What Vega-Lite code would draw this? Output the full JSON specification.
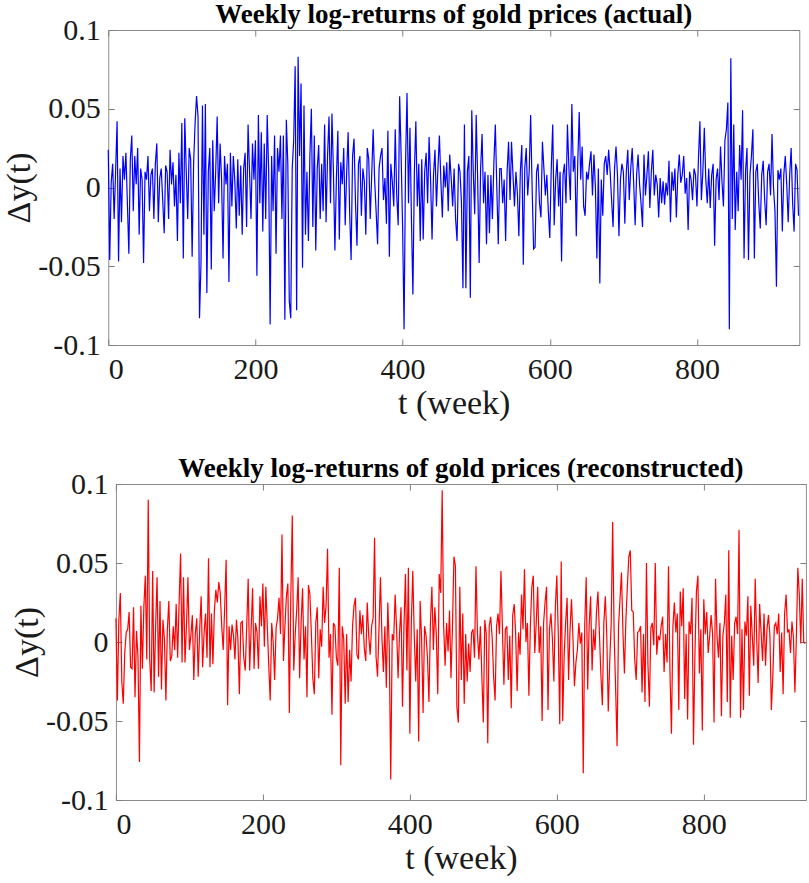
{
  "$schema": "https://vega.github.io/schema/vega-lite/v6.json",
  "description": "weekly log-returns of gold prices, actual vs reconstructed",
  "background": "white",
  "padding": {"left": 2, "top": 0, "right": 0, "bottom": 0},
  "config": {
    "font": "Liberation Serif",
    "view": {"stroke": "#8c8c8c", "strokeWidth": 1},
    "axis": {
      "grid": false,
      "domain": false,
      "tickColor": "#7f7f7f",
      "tickSize": -6,
      "labelFont": "Liberation Serif",
      "labelFontSize": 30,
      "labelColor": "#1a1a1a",
      "titleFont": "Liberation Serif",
      "titleFontSize": 34,
      "titleFontWeight": "normal",
      "titleColor": "#1a1a1a"
    },
    "title": {"font": "Liberation Serif", "fontSize": 27, "fontWeight": "bold", "color": "#000000", "offset": -14, "frame": "group"}
  },
  "datasets": {
    "gold": [
      {"t":0,"a":0.024,"r":0.015},{"t":2,"a":-0.046,"r":-0.037},{"t":4,"a":0.003,"r":0.014},{"t":6,"a":0.015,"r":0.031},{"t":8,"a":-0.020,"r":-0.025},
      {"t":10,"a":0.010,"r":-0.039},{"t":12,"a":0.042,"r":-0.007},{"t":14,"a":-0.047,"r":0.006},{"t":16,"a":0.012,"r":0.008},{"t":18,"a":-0.022,"r":0.019},
      {"t":20,"a":0.020,"r":-0.016},{"t":22,"a":0.005,"r":-0.017},{"t":24,"a":0.022,"r":0.022},{"t":26,"a":-0.010,"r":-0.035},{"t":28,"a":-0.042,"r":0.007},
      {"t":30,"a":0.018,"r":-0.009},{"t":32,"a":0.033,"r":-0.076},{"t":34,"a":-0.015,"r":0.023},{"t":36,"a":0.020,"r":-0.017},{"t":38,"a":0.002,"r":0.022},
      {"t":40,"a":0.025,"r":0.042},{"t":42,"a":-0.030,"r":-0.011},{"t":44,"a":0.012,"r":0.090},{"t":46,"a":0.005,"r":-0.011},{"t":48,"a":-0.048,"r":-0.031},
      {"t":50,"a":0.010,"r":0.045},{"t":52,"a":0.005,"r":-0.032},{"t":54,"a":0.020,"r":0.010},{"t":56,"a":-0.015,"r":0.041},{"t":58,"a":0.008,"r":-0.022},
      {"t":60,"a":0.012,"r":0.026},{"t":62,"a":-0.020,"r":-0.030},{"t":64,"a":0.015,"r":0.014},{"t":66,"a":0.028,"r":0.002},{"t":68,"a":-0.022,"r":-0.037},
      {"t":70,"a":0.006,"r":0.008},{"t":72,"a":0.012,"r":0.026},{"t":74,"a":-0.008,"r":-0.012},{"t":76,"a":-0.029,"r":-0.009},{"t":78,"a":0.014,"r":0.010},
      {"t":80,"a":0.010,"r":-0.005},{"t":82,"a":-0.020,"r":0.024},{"t":84,"a":0.024,"r":-0.010},{"t":86,"a":0.002,"r":0.025},{"t":88,"a":0.016,"r":0.056},
      {"t":90,"a":-0.012,"r":-0.013},{"t":92,"a":0.008,"r":0.041},{"t":94,"a":-0.034,"r":-0.013},{"t":96,"a":0.022,"r":0.010},{"t":98,"a":-0.010,"r":0.041},
      {"t":100,"a":0.041,"r":-0.005},{"t":102,"a":-0.045,"r":0.004},{"t":104,"a":0.044,"r":0.017},{"t":106,"a":0.010,"r":-0.024},{"t":108,"a":-0.020,"r":0.005},
      {"t":110,"a":0.025,"r":0.015},{"t":112,"a":0.018,"r":-0.022},{"t":114,"a":-0.044,"r":0.008},{"t":116,"a":0.015,"r":0.029},{"t":118,"a":0.041,"r":-0.016},
      {"t":120,"a":0.058,"r":0.006},{"t":122,"a":0.045,"r":0.018},{"t":124,"a":-0.083,"r":-0.010},{"t":126,"a":-0.049,"r":0.053},{"t":128,"a":0.052,"r":-0.016},
      {"t":130,"a":-0.030,"r":0.018},{"t":132,"a":0.053,"r":-0.014},{"t":134,"a":-0.067,"r":0.020},{"t":136,"a":0.010,"r":0.033},{"t":138,"a":0.025,"r":0.025},
      {"t":140,"a":-0.052,"r":0.038},{"t":142,"a":0.030,"r":0.031},{"t":144,"a":-0.015,"r":0.010},{"t":146,"a":0.010,"r":-0.005},{"t":148,"a":0.045,"r":0.022},
      {"t":150,"a":-0.010,"r":0.052},{"t":152,"a":0.028,"r":-0.040},{"t":154,"a":0.005,"r":0.010},{"t":156,"a":-0.045,"r":-0.005},{"t":158,"a":0.020,"r":0.011},
      {"t":160,"a":0.002,"r":0.004},{"t":162,"a":0.015,"r":-0.011},{"t":164,"a":-0.060,"r":0.014},{"t":166,"a":0.022,"r":0.002},{"t":168,"a":-0.012,"r":-0.033},
      {"t":170,"a":0.020,"r":0.012},{"t":172,"a":0.004,"r":0.013},{"t":174,"a":-0.026,"r":-0.010},{"t":176,"a":0.018,"r":-0.018},{"t":178,"a":-0.018,"r":0.010},
      {"t":180,"a":0.014,"r":0.040},{"t":182,"a":-0.030,"r":-0.018},{"t":184,"a":0.012,"r":0.008},{"t":186,"a":0.022,"r":0.034},{"t":188,"a":-0.025,"r":-0.017},
      {"t":190,"a":0.040,"r":0.012},{"t":192,"a":0.010,"r":0.006},{"t":194,"a":-0.020,"r":-0.017},{"t":196,"a":0.028,"r":0.029},{"t":198,"a":0.005,"r":0.010},
      {"t":200,"a":0.030,"r":0.037},{"t":202,"a":-0.056,"r":-0.003},{"t":204,"a":0.046,"r":0.035},{"t":206,"a":-0.010,"r":0.010},{"t":208,"a":0.035,"r":-0.015},
      {"t":210,"a":-0.028,"r":-0.037},{"t":212,"a":0.028,"r":0.012},{"t":214,"a":-0.020,"r":0.000},{"t":216,"a":0.046,"r":-0.024},{"t":218,"a":0.010,"r":0.009},
      {"t":220,"a":-0.087,"r":0.015},{"t":222,"a":0.020,"r":0.028},{"t":224,"a":-0.015,"r":0.005},{"t":226,"a":0.033,"r":0.068},{"t":228,"a":-0.042,"r":-0.012},
      {"t":230,"a":0.025,"r":0.010},{"t":232,"a":0.010,"r":0.029},{"t":234,"a":0.033,"r":0.037},{"t":236,"a":-0.020,"r":-0.045},{"t":238,"a":0.033,"r":0.029},
      {"t":240,"a":-0.084,"r":0.080},{"t":242,"a":0.043,"r":-0.018},{"t":244,"a":0.015,"r":0.005},{"t":246,"a":-0.072,"r":0.020},{"t":248,"a":-0.083,"r":0.041},
      {"t":250,"a":0.012,"r":-0.023},{"t":252,"a":0.030,"r":0.012},{"t":254,"a":0.077,"r":0.034},{"t":256,"a":-0.078,"r":-0.011},{"t":258,"a":0.083,"r":0.010},
      {"t":260,"a":0.020,"r":-0.035},{"t":262,"a":0.066,"r":0.036},{"t":264,"a":-0.051,"r":0.030},{"t":266,"a":0.052,"r":0.005},{"t":268,"a":-0.030,"r":-0.023},
      {"t":270,"a":0.010,"r":-0.033},{"t":272,"a":-0.034,"r":0.012},{"t":274,"a":0.020,"r":0.022},{"t":276,"a":0.050,"r":-0.023},{"t":278,"a":-0.025,"r":0.008},
      {"t":280,"a":0.033,"r":-0.003},{"t":282,"a":-0.040,"r":0.035},{"t":284,"a":0.012,"r":0.012},{"t":286,"a":0.027,"r":0.023},{"t":288,"a":-0.020,"r":0.059},
      {"t":290,"a":0.015,"r":-0.010},{"t":292,"a":-0.015,"r":0.005},{"t":294,"a":0.040,"r":-0.046},{"t":296,"a":-0.022,"r":0.012},{"t":298,"a":0.020,"r":0.010},
      {"t":300,"a":0.045,"r":-0.010},{"t":302,"a":-0.010,"r":-0.015},{"t":304,"a":0.047,"r":0.047},{"t":306,"a":0.010,"r":-0.078},{"t":308,"a":-0.040,"r":0.010},
      {"t":310,"a":0.005,"r":0.002},{"t":312,"a":0.036,"r":-0.039},{"t":314,"a":-0.033,"r":0.005},{"t":316,"a":0.016,"r":-0.038},{"t":318,"a":0.002,"r":-0.005},
      {"t":320,"a":0.025,"r":-0.025},{"t":322,"a":-0.024,"r":0.010},{"t":324,"a":0.010,"r":0.023},{"t":326,"a":0.035,"r":0.028},{"t":328,"a":-0.015,"r":-0.008},
      {"t":330,"a":-0.046,"r":-0.011},{"t":332,"a":0.020,"r":0.020},{"t":334,"a":0.031,"r":0.005},{"t":336,"a":-0.010,"r":0.017},{"t":338,"a":-0.037,"r":-0.004},
      {"t":340,"a":0.015,"r":-0.012},{"t":342,"a":0.020,"r":0.025},{"t":344,"a":-0.018,"r":0.004},{"t":346,"a":0.012,"r":-0.008},{"t":348,"a":0.004,"r":0.010},
      {"t":350,"a":-0.030,"r":0.015},{"t":352,"a":0.025,"r":0.066},{"t":354,"a":0.018,"r":-0.009},{"t":356,"a":-0.020,"r":-0.022},{"t":358,"a":0.008,"r":0.008},
      {"t":360,"a":0.037,"r":0.041},{"t":362,"a":0.005,"r":0.003},{"t":364,"a":-0.015,"r":-0.019},{"t":366,"a":-0.036,"r":0.010},{"t":368,"a":0.012,"r":-0.029},
      {"t":370,"a":0.020,"r":0.025},{"t":372,"a":0.025,"r":-0.004},{"t":374,"a":-0.008,"r":-0.087},{"t":376,"a":0.006,"r":0.005},{"t":378,"a":-0.023,"r":0.001},
      {"t":380,"a":0.036,"r":0.030},{"t":382,"a":-0.044,"r":0.008},{"t":384,"a":0.015,"r":-0.023},{"t":386,"a":0.004,"r":0.006},{"t":388,"a":-0.012,"r":0.022},
      {"t":390,"a":0.037,"r":-0.041},{"t":392,"a":-0.005,"r":0.010},{"t":394,"a":-0.024,"r":0.043},{"t":396,"a":0.058,"r":-0.018},{"t":398,"a":0.020,"r":0.047},
      {"t":400,"a":-0.025,"r":-0.058},{"t":402,"a":-0.090,"r":0.012},{"t":404,"a":0.015,"r":0.045},{"t":406,"a":0.060,"r":0.004},{"t":408,"a":-0.010,"r":-0.025},
      {"t":410,"a":0.038,"r":0.008},{"t":412,"a":-0.020,"r":-0.063},{"t":414,"a":-0.068,"r":0.026},{"t":416,"a":0.010,"r":0.002},{"t":418,"a":0.042,"r":-0.045},
      {"t":420,"a":-0.012,"r":0.010},{"t":422,"a":0.015,"r":0.004},{"t":424,"a":-0.034,"r":-0.010},{"t":426,"a":0.018,"r":-0.038},{"t":428,"a":-0.033,"r":0.012},
      {"t":430,"a":0.010,"r":0.035},{"t":432,"a":0.022,"r":-0.005},{"t":434,"a":-0.010,"r":0.022},{"t":436,"a":0.032,"r":0.005},{"t":438,"a":0.005,"r":-0.033},
      {"t":440,"a":-0.033,"r":0.043},{"t":442,"a":0.008,"r":0.031},{"t":444,"a":0.024,"r":0.096},{"t":446,"a":-0.012,"r":0.010},{"t":448,"a":0.012,"r":-0.015},
      {"t":450,"a":0.033,"r":0.012},{"t":452,"a":0.004,"r":-0.006},{"t":454,"a":-0.019,"r":0.020},{"t":456,"a":0.014,"r":-0.023},{"t":458,"a":0.000,"r":0.010},
      {"t":460,"a":0.016,"r":0.054},{"t":462,"a":-0.015,"r":0.048},{"t":464,"a":0.021,"r":-0.041},{"t":466,"a":0.006,"r":-0.051},{"t":468,"a":-0.012,"r":0.035},
      {"t":470,"a":0.012,"r":-0.024},{"t":472,"a":-0.020,"r":0.018},{"t":474,"a":-0.034,"r":-0.039},{"t":476,"a":0.015,"r":0.005},{"t":478,"a":0.010,"r":-0.025},
      {"t":480,"a":-0.010,"r":-0.001},{"t":482,"a":-0.064,"r":-0.019},{"t":484,"a":0.040,"r":0.006},{"t":486,"a":-0.064,"r":0.008},{"t":488,"a":0.010,"r":-0.010},
      {"t":490,"a":0.020,"r":0.048},{"t":492,"a":-0.070,"r":0.005},{"t":494,"a":0.049,"r":-0.011},{"t":496,"a":0.010,"r":0.010},{"t":498,"a":-0.017,"r":-0.022},
      {"t":500,"a":0.046,"r":-0.051},{"t":502,"a":0.005,"r":0.014},{"t":504,"a":-0.048,"r":0.005},{"t":506,"a":0.012,"r":-0.064},{"t":508,"a":0.034,"r":0.010},
      {"t":510,"a":-0.010,"r":0.016},{"t":512,"a":0.010,"r":0.003},{"t":514,"a":-0.036,"r":-0.022},{"t":516,"a":0.008,"r":-0.037},{"t":518,"a":-0.029,"r":0.010},
      {"t":520,"a":0.008,"r":0.018},{"t":522,"a":-0.020,"r":0.005},{"t":524,"a":0.015,"r":0.045},{"t":526,"a":0.040,"r":0.008},{"t":528,"a":0.000,"r":-0.027},
      {"t":530,"a":-0.036,"r":0.008},{"t":532,"a":0.012,"r":0.010},{"t":534,"a":0.012,"r":-0.024},{"t":536,"a":-0.010,"r":0.004},{"t":538,"a":0.005,"r":-0.042},
      {"t":540,"a":-0.034,"r":0.017},{"t":542,"a":0.010,"r":0.024},{"t":544,"a":0.029,"r":0.005},{"t":546,"a":-0.008,"r":-0.031},{"t":548,"a":0.029,"r":0.006},
      {"t":550,"a":0.008,"r":-0.008},{"t":552,"a":-0.012,"r":0.030},{"t":554,"a":0.010,"r":0.008},{"t":556,"a":-0.004,"r":0.046},{"t":558,"a":-0.031,"r":0.000},
      {"t":560,"a":0.010,"r":0.012},{"t":562,"a":0.027,"r":-0.034},{"t":564,"a":-0.049,"r":0.010},{"t":566,"a":0.012,"r":0.035},{"t":568,"a":0.025,"r":0.042},
      {"t":570,"a":-0.005,"r":-0.007},{"t":572,"a":0.010,"r":0.012},{"t":574,"a":0.046,"r":0.035},{"t":576,"a":0.000,"r":-0.007},{"t":578,"a":-0.039,"r":0.010},
      {"t":580,"a":-0.038,"r":-0.050},{"t":582,"a":0.010,"r":0.012},{"t":584,"a":0.015,"r":0.025},{"t":586,"a":-0.010,"r":0.035},{"t":588,"a":-0.019,"r":-0.043},
      {"t":590,"a":0.029,"r":0.008},{"t":592,"a":0.012,"r":0.018},{"t":594,"a":-0.005,"r":0.002},{"t":596,"a":0.008,"r":-0.025},{"t":598,"a":-0.015,"r":0.022},
      {"t":600,"a":-0.032,"r":0.042},{"t":602,"a":0.012,"r":0.005},{"t":604,"a":0.040,"r":-0.052},{"t":606,"a":-0.024,"r":0.051},{"t":608,"a":0.005,"r":-0.050},
      {"t":610,"a":0.018,"r":-0.008},{"t":612,"a":-0.012,"r":0.012},{"t":614,"a":0.010,"r":0.028},{"t":616,"a":-0.047,"r":-0.024},{"t":618,"a":0.008,"r":0.008},
      {"t":620,"a":0.015,"r":0.027},{"t":622,"a":-0.010,"r":0.002},{"t":624,"a":0.040,"r":-0.028},{"t":626,"a":0.012,"r":-0.013},{"t":628,"a":-0.008,"r":-0.005},
      {"t":630,"a":0.053,"r":0.012},{"t":632,"a":0.010,"r":-0.001},{"t":634,"a":0.020,"r":0.006},{"t":636,"a":-0.031,"r":-0.083},{"t":638,"a":0.015,"r":0.011},
      {"t":640,"a":0.048,"r":0.041},{"t":642,"a":0.005,"r":-0.030},{"t":644,"a":0.026,"r":0.010},{"t":646,"a":-0.012,"r":0.029},{"t":648,"a":-0.018,"r":-0.018},
      {"t":650,"a":0.010,"r":0.008},{"t":652,"a":0.005,"r":-0.005},{"t":654,"a":0.015,"r":0.019},{"t":656,"a":0.023,"r":0.032},{"t":658,"a":-0.005,"r":0.005},
      {"t":660,"a":0.021,"r":-0.021},{"t":662,"a":0.000,"r":-0.040},{"t":664,"a":-0.045,"r":0.012},{"t":666,"a":0.012,"r":0.029},{"t":668,"a":-0.061,"r":0.004},
      {"t":670,"a":0.005,"r":-0.044},{"t":672,"a":-0.018,"r":-0.013},{"t":674,"a":0.015,"r":0.012},{"t":676,"a":0.020,"r":0.076},{"t":678,"a":0.008,"r":0.005},
      {"t":680,"a":0.024,"r":-0.029},{"t":682,"a":0.010,"r":-0.066},{"t":684,"a":-0.008,"r":0.010},{"t":686,"a":-0.025,"r":0.027},{"t":688,"a":0.012,"r":0.044},
      {"t":690,"a":0.026,"r":0.006},{"t":692,"a":0.008,"r":-0.020},{"t":694,"a":-0.031,"r":0.014},{"t":696,"a":0.005,"r":0.035},{"t":698,"a":0.015,"r":0.054},
      {"t":700,"a":0.010,"r":0.058},{"t":702,"a":-0.023,"r":0.020},{"t":704,"a":0.010,"r":0.019},{"t":706,"a":0.024,"r":-0.011},{"t":708,"a":-0.008,"r":-0.024},
      {"t":710,"a":0.012,"r":0.006},{"t":712,"a":0.025,"r":0.007},{"t":714,"a":0.003,"r":0.010},{"t":716,"a":-0.024,"r":-0.032},{"t":718,"a":0.008,"r":0.005},
      {"t":720,"a":0.021,"r":-0.038},{"t":722,"a":0.002,"r":0.050},{"t":724,"a":-0.010,"r":-0.014},{"t":726,"a":-0.025,"r":-0.041},{"t":728,"a":0.021,"r":0.009},
      {"t":730,"a":-0.005,"r":0.012},{"t":732,"a":0.008,"r":-0.002},{"t":734,"a":0.023,"r":0.050},{"t":736,"a":-0.013,"r":-0.008},{"t":738,"a":0.010,"r":0.004},
      {"t":740,"a":0.024,"r":0.001},{"t":742,"a":-0.005,"r":0.010},{"t":744,"a":0.008,"r":0.016},{"t":746,"a":0.002,"r":-0.019},{"t":748,"a":-0.019,"r":0.005},
      {"t":750,"a":0.006,"r":-0.013},{"t":752,"a":-0.010,"r":0.048},{"t":754,"a":0.004,"r":-0.019},{"t":756,"a":-0.011,"r":-0.058},{"t":758,"a":0.003,"r":0.010},
      {"t":760,"a":-0.005,"r":0.025},{"t":762,"a":0.017,"r":0.006},{"t":764,"a":-0.022,"r":0.018},{"t":766,"a":0.010,"r":-0.043},{"t":768,"a":-0.002,"r":0.032},
      {"t":770,"a":0.012,"r":0.010},{"t":772,"a":-0.019,"r":0.034},{"t":774,"a":0.008,"r":-0.036},{"t":776,"a":0.021,"r":0.005},{"t":778,"a":0.003,"r":-0.049},
      {"t":780,"a":0.008,"r":0.013},{"t":782,"a":0.020,"r":0.005},{"t":784,"a":-0.004,"r":0.028},{"t":786,"a":0.006,"r":-0.065},{"t":788,"a":-0.027,"r":-0.007},
      {"t":790,"a":0.010,"r":0.032},{"t":792,"a":0.005,"r":0.042},{"t":794,"a":-0.008,"r":-0.020},{"t":796,"a":0.012,"r":0.008},{"t":798,"a":0.008,"r":-0.056},
      {"t":800,"a":-0.012,"r":0.027},{"t":802,"a":0.018,"r":0.005},{"t":804,"a":0.042,"r":0.019},{"t":806,"a":-0.008,"r":-0.007},{"t":808,"a":0.010,"r":0.004},
      {"t":810,"a":0.038,"r":0.017},{"t":812,"a":0.005,"r":0.005},{"t":814,"a":-0.010,"r":-0.051},{"t":816,"a":0.012,"r":0.040},{"t":818,"a":-0.013,"r":0.004},
      {"t":820,"a":0.008,"r":-0.010},{"t":822,"a":0.015,"r":0.012},{"t":824,"a":-0.037,"r":-0.047},{"t":826,"a":0.005,"r":0.004},{"t":828,"a":0.012,"r":0.012},
      {"t":830,"a":-0.008,"r":0.030},{"t":832,"a":0.026,"r":-0.038},{"t":834,"a":0.004,"r":0.058},{"t":836,"a":-0.012,"r":-0.048},{"t":838,"a":0.030,"r":0.004},
      {"t":840,"a":0.037,"r":-0.024},{"t":842,"a":0.054,"r":0.012},{"t":844,"a":-0.090,"r":0.016},{"t":846,"a":0.082,"r":0.005},{"t":848,"a":-0.020,"r":0.071},
      {"t":850,"a":0.040,"r":-0.048},{"t":852,"a":-0.027,"r":0.008},{"t":854,"a":0.010,"r":-0.043},{"t":856,"a":-0.015,"r":0.013},{"t":858,"a":0.027,"r":0.004},
      {"t":860,"a":0.005,"r":0.029},{"t":862,"a":0.049,"r":-0.034},{"t":864,"a":-0.045,"r":0.023},{"t":866,"a":0.010,"r":0.004},{"t":868,"a":0.025,"r":-0.015},
      {"t":870,"a":-0.046,"r":0.040},{"t":872,"a":0.008,"r":0.002},{"t":874,"a":0.020,"r":-0.026},{"t":876,"a":0.037,"r":0.024},{"t":878,"a":-0.045,"r":0.006},
      {"t":880,"a":0.010,"r":-0.012},{"t":882,"a":0.015,"r":0.018},{"t":884,"a":-0.010,"r":-0.015},{"t":886,"a":-0.026,"r":0.008},{"t":888,"a":0.008,"r":0.017},
      {"t":890,"a":0.017,"r":0.004},{"t":892,"a":-0.008,"r":-0.043},{"t":894,"a":-0.024,"r":-0.021},{"t":896,"a":0.010,"r":0.010},{"t":898,"a":0.015,"r":0.012},
      {"t":900,"a":-0.005,"r":0.005},{"t":902,"a":0.034,"r":0.018},{"t":904,"a":0.000,"r":-0.019},{"t":906,"a":-0.015,"r":0.006},{"t":908,"a":-0.063,"r":-0.033},
      {"t":910,"a":0.011,"r":0.018},{"t":912,"a":0.005,"r":0.030},{"t":914,"a":0.012,"r":0.006},{"t":916,"a":-0.028,"r":0.008},{"t":918,"a":0.008,"r":-0.007},
      {"t":920,"a":0.020,"r":0.013},{"t":922,"a":0.002,"r":0.003},{"t":924,"a":-0.022,"r":-0.032},{"t":926,"a":0.008,"r":0.003},{"t":928,"a":0.025,"r":0.047},
      {"t":930,"a":-0.010,"r":0.030},{"t":932,"a":-0.028,"r":-0.001},{"t":934,"a":0.015,"r":0.040},{"t":936,"a":0.011,"r":0.000},{"t":938,"a":-0.018,"r":-0.001}
    ]
  },
  "spacing": 33,
  "center": true,
  "vconcat": [
    {
      "title": {"text": "Weekly log-returns of gold prices (actual)"},
      "width": 691,
      "height": 315,
      "data": {"name": "gold"},
      "layer": [
        {
          "mark": {"type": "line", "color": "#0000ff", "strokeWidth": 1.2},
          "encoding": {
            "x": {"field": "t", "type": "quantitative", "scale": {"domain": [0, 939], "nice": false},
              "axis": {"title": "t (week)", "values": [0, 200, 400, 600, 800], "format": "d", "labelPadding": 15, "titlePadding": 2}},
            "y": {"field": "a", "type": "quantitative", "scale": {"domain": [-0.1, 0.1], "nice": false},
              "axis": {"title": "Δy(t)", "values": [-0.1, -0.05, 0, 0.05, 0.1], "labelExpr": "'' + datum.value", "labelPadding": 14, "titlePadding": 1}}
          }
        },
        {
          "mark": {"type": "line", "opacity": 0},
          "encoding": {
            "x": {"field": "t", "type": "quantitative", "axis": {"orient": "top", "values": [0, 200, 400, 600, 800], "labels": false, "title": null, "minExtent": 0}},
            "y": {"field": "a", "type": "quantitative", "axis": {"orient": "right", "values": [-0.1, -0.05, 0, 0.05, 0.1], "labels": false, "title": null, "minExtent": 16}}
          }
        }
      ],
      "resolve": {"axis": {"x": "independent", "y": "independent"}}
    },
    {
      "title": {"text": "Weekly log-returns of gold prices (reconstructed)"},
      "width": 690,
      "height": 316,
      "data": {"name": "gold"},
      "layer": [
        {
          "mark": {"type": "line", "color": "#ff0000", "strokeWidth": 1.2},
          "encoding": {
            "x": {"field": "t", "type": "quantitative", "scale": {"domain": [0, 939], "nice": false},
              "axis": {"title": "t (week)", "values": [0, 200, 400, 600, 800], "format": "d", "labelPadding": 15, "titlePadding": 2}},
            "y": {"field": "r", "type": "quantitative", "scale": {"domain": [-0.1, 0.1], "nice": false},
              "axis": {"title": "Δy(t)", "values": [-0.1, -0.05, 0, 0.05, 0.1], "labelExpr": "'' + datum.value", "labelPadding": 14, "titlePadding": 1}}
          }
        },
        {
          "mark": {"type": "line", "opacity": 0},
          "encoding": {
            "x": {"field": "t", "type": "quantitative", "axis": {"orient": "top", "values": [0, 200, 400, 600, 800], "labels": false, "title": null, "minExtent": 0}},
            "y": {"field": "r", "type": "quantitative", "axis": {"orient": "right", "values": [-0.1, -0.05, 0, 0.05, 0.1], "labels": false, "title": null, "minExtent": 0}}
          }
        }
      ],
      "resolve": {"axis": {"x": "independent", "y": "independent"}}
    }
  ]
}
